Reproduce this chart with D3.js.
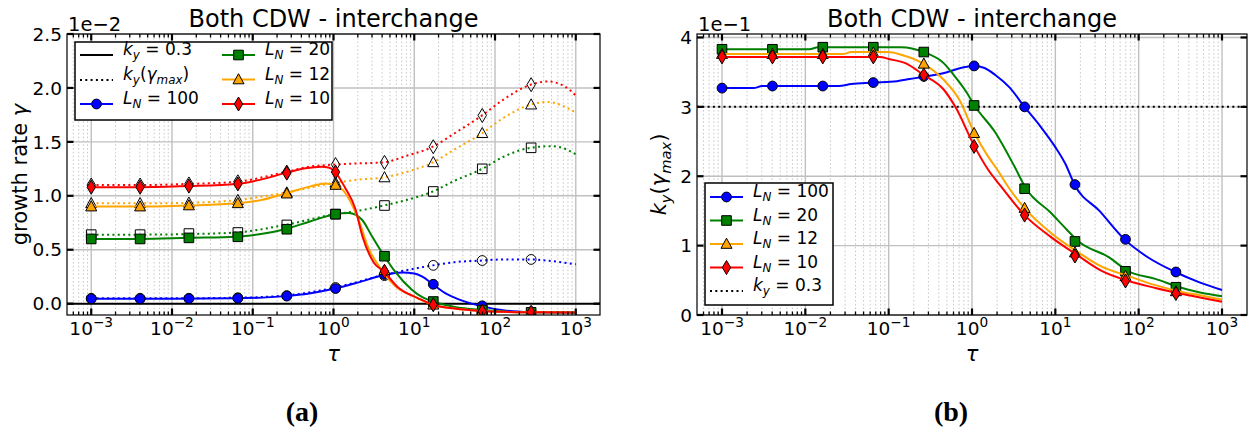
<!DOCTYPE html>
<html><head><meta charset="utf-8">
<script src="https://cdn.jsdelivr.net/npm/d3@7"></script>
<style>
body{margin:0;background:#fff}
svg{display:block}
text{font-family:"DejaVu Sans",sans-serif;fill:#000}
</style>
</head><body>
<svg id="chart" width="1253" height="434"></svg>
<script>
// ---------------- DATA ----------------
const markerTau = [0.001, 0.00403, 0.0162, 0.0654, 0.264, 1.06, 4.28, 17.2, 69.5, 280];
const seriesLN = ["100", "20", "12", "10"];
const seriesColors = ["#0000ff", "#008000", "#ffa500", "#ff0000"];
const seriesShapes = ["circle", "square", "triangle", "diamond"];
const xTickExps = [-3, -2, -1, 0, 1, 2, 3];
const yTicksA = [0, 0.5, 1.0, 1.5, 2.0, 2.5];
const yTickLabelsA = ["0.0", "0.5", "1.0", "1.5", "2.0", "2.5"];
const yTicksB = [0, 1, 2, 3, 4];
const yTickLabelsB = ["0", "1", "2", "3", "4"];

// panel (a): growth rate (x1e-2) — markers at markerTau
const gammaFixed100 = [0.045, 0.045, 0.047, 0.05, 0.07, 0.14, 0.27, 0.18, -0.02, -0.075];
const gammaFixed20  = [0.60, 0.60, 0.61, 0.62, 0.69, 0.83, 0.44, 0.02, -0.06, -0.08];
const gammaFixed12  = [0.90, 0.90, 0.91, 0.93, 1.02, 1.10, 0.31, -0.01, -0.07, -0.08];
const gammaFixed10  = [1.08, 1.08, 1.09, 1.11, 1.21, 1.22, 0.30, -0.01, -0.07, -0.08];
const gammaMax100 = [0.05, 0.05, 0.05, 0.055, 0.075, 0.15, 0.26, 0.355, 0.40, 0.41];
const gammaMax20  = [0.64, 0.64, 0.65, 0.66, 0.73, 0.83, 0.91, 1.04, 1.25, 1.445];
const gammaMax12  = [0.93, 0.93, 0.935, 0.96, 1.03, 1.12, 1.17, 1.31, 1.58, 1.845];
const gammaMax10  = [1.10, 1.10, 1.11, 1.13, 1.22, 1.29, 1.31, 1.455, 1.745, 2.03];

// panel (a) curves: [log10(tau), value]
const gammaFixedLine100 = [[-3,0.045],[-2,0.046],[-1.2,0.05],[-0.6,0.07],[-0.3,0.095],[0.02,0.14],[0.3,0.195],[0.62,0.265],[0.85,0.29],[1.0,0.28],[1.1,0.25],[1.23,0.18],[1.4,0.09],[1.55,0.04],[1.84,-0.025],[2.1,-0.06],[2.44,-0.078],[3,-0.085]];
const gammaFixedLine20 = [[-3,0.60],[-2.4,0.60],[-1.8,0.61],[-1.2,0.62],[-0.9,0.645],[-0.6,0.69],[-0.3,0.76],[0.02,0.83],[0.19,0.84],[0.35,0.78],[0.48,0.62],[0.63,0.44],[0.77,0.29],[0.97,0.13],[1.1,0.06],[1.23,0.02],[1.5,-0.03],[1.84,-0.058],[2.1,-0.072],[2.44,-0.08],[3,-0.082]];
const gammaFixedLine12 = [[-3,0.90],[-2.4,0.90],[-1.8,0.91],[-1.2,0.93],[-0.9,0.96],[-0.6,1.02],[-0.3,1.085],[-0.1,1.115],[0.02,1.10],[0.12,1.05],[0.22,0.93],[0.31,0.78],[0.43,0.52],[0.58,0.33],[0.77,0.16],[1.0,0.065],[1.23,-0.01],[1.5,-0.045],[1.84,-0.068],[2.1,-0.076],[2.44,-0.08],[3,-0.082]];
const gammaFixedLine10 = [[-3,1.08],[-2.4,1.08],[-1.8,1.09],[-1.2,1.11],[-0.9,1.15],[-0.6,1.21],[-0.35,1.255],[-0.15,1.27],[-0.05,1.26],[0.02,1.22],[0.14,1.08],[0.27,0.88],[0.36,0.62],[0.5,0.38],[0.62,0.30],[0.8,0.15],[1.05,0.05],[1.23,-0.01],[1.5,-0.045],[1.84,-0.068],[2.1,-0.076],[2.44,-0.08],[3,-0.082]];
const gammaMaxLine100 = [[-3,0.05],[-2,0.05],[-1.2,0.055],[-0.6,0.075],[0.02,0.15],[0.62,0.265],[0.9,0.31],[1.23,0.355],[1.5,0.385],[1.84,0.40],[2.1,0.41],[2.44,0.41],[2.7,0.395],[3,0.365]];
const gammaMaxLine20 = [[-3,0.64],[-2.4,0.64],[-1.8,0.645],[-1.2,0.66],[-0.6,0.73],[0.02,0.83],[0.3,0.86],[0.62,0.91],[0.9,0.96],[1.23,1.04],[1.5,1.14],[1.84,1.25],[2.1,1.36],[2.44,1.445],[2.7,1.46],[2.85,1.44],[3,1.385]];
const gammaMaxLine12 = [[-3,0.93],[-2.4,0.93],[-1.8,0.935],[-1.2,0.96],[-0.6,1.03],[0.02,1.12],[0.3,1.15],[0.62,1.17],[0.9,1.22],[1.23,1.31],[1.5,1.43],[1.84,1.58],[2.1,1.72],[2.44,1.845],[2.65,1.87],[2.85,1.83],[3,1.77]];
const gammaMaxLine10 = [[-3,1.10],[-2.4,1.10],[-1.8,1.11],[-1.2,1.13],[-0.6,1.22],[-0.3,1.27],[0.02,1.29],[0.3,1.30],[0.62,1.31],[0.9,1.37],[1.23,1.455],[1.5,1.58],[1.84,1.745],[2.1,1.89],[2.44,2.03],[2.65,2.06],[2.85,2.02],[3,1.93]];

// panel (b): k_y(gamma_max) (x1e-1) — markers at markerTau
const kyMax100 = [3.27, 3.30, 3.30, 3.35, 3.44, 3.59, 3.00, 1.88, 1.09, 0.62];
const kyMax20  = [3.83, 3.83, 3.86, 3.86, 3.79, 3.02, 1.82, 1.06, 0.63, 0.40];
const kyMax12  = [3.76, 3.76, 3.76, 3.78, 3.62, 2.62, 1.54, 0.90, 0.56, 0.34];
const kyMax10  = [3.72, 3.72, 3.72, 3.72, 3.46, 2.43, 1.44, 0.85, 0.49, 0.31];
const kyRef = 3.0;
const kyMaxLine100 = [[-3,3.27],[-2.62,3.27],[-2.52,3.30],[-1.6,3.30],[-1.45,3.33],[-1.2,3.35],[-0.9,3.37],[-0.75,3.40],[-0.6,3.43],[-0.3,3.50],[-0.1,3.57],[0.03,3.59],[0.15,3.56],[0.28,3.46],[0.45,3.28],[0.63,3.0],[0.82,2.72],[1.0,2.42],[1.12,2.18],[1.23,1.88],[1.53,1.50],[1.83,1.09],[2.1,0.84],[2.44,0.62],[2.73,0.47],[3,0.36]];
const kyMaxLine20 = [[-3,3.83],[-1.95,3.83],[-1.85,3.86],[-0.85,3.86],[-0.58,3.79],[-0.34,3.63],[-0.2,3.43],[-0.06,3.2],[0.03,3.02],[0.28,2.63],[0.51,2.14],[0.65,1.82],[0.94,1.48],[1.13,1.24],[1.28,1.06],[1.63,0.84],[1.88,0.63],[2.2,0.52],[2.49,0.40],[2.75,0.32],[3,0.27]];
const kyMaxLine12 = [[-3,3.76],[-1.55,3.76],[-1.45,3.79],[-1.0,3.79],[-0.85,3.75],[-0.58,3.62],[-0.34,3.39],[-0.15,3.1],[0.03,2.62],[0.19,2.29],[0.3,2.1],[0.45,1.82],[0.63,1.54],[0.94,1.19],[1.28,0.90],[1.55,0.70],[1.88,0.56],[2.2,0.43],[2.49,0.34],[2.75,0.28],[3,0.22]];
const kyMaxLine10 = [[-3,3.72],[-1.1,3.72],[-1.0,3.69],[-0.8,3.63],[-0.58,3.46],[-0.34,3.25],[-0.2,3.0],[0.03,2.43],[0.19,2.1],[0.35,1.85],[0.63,1.44],[0.94,1.13],[1.28,0.85],[1.55,0.64],[1.88,0.49],[2.2,0.39],[2.49,0.31],[2.75,0.25],[3,0.19]];

// ---------------- DRAWING ----------------
const svg = d3.select("#chart");
const FS_TICK = 18.5, FS_TITLE = 24, FS_LABEL = 21, FS_LEG = 17;

function rich(textSel, parts, fs) {
  let off = 0;
  parts.forEach(p => {
    const target = p.sub ? 0.24 * fs : (p.sup ? -0.42 * fs : 0);
    const ts = textSel.append("tspan").text(p.t).attr("dy", target - off);
    off = target;
    if (p.i) ts.attr("font-style", "italic");
    if (p.sub || p.sup) ts.attr("font-size", fs * (p.sup ? 0.74 : 0.7));
  });
}

function markerPath(shape) {
  if (shape === "circle") return d3.symbol(d3.symbolCircle, Math.PI * 4.9 * 4.9)();
  if (shape === "square") return "M-4.8,-4.8H4.8V4.8H-4.8Z";
  if (shape === "triangle") return "M0,-5.8L5.5,4.3L-5.5,4.3Z";
  return "M0,-7L4.2,0L0,7L-4.2,0Z";
}

function panel(cfg) {
  const {x0, x1, y0, y1, yDomain} = cfg;
  const x = d3.scaleLog().domain([Math.pow(10, -3.3), Math.pow(10, 3.3)]).range([x0, x1]);
  const y = d3.scaleLinear().domain(yDomain).range([y1, y0]);
  const g = svg.append("g");
  const clipId = "clip" + cfg.id;
  svg.append("clipPath").attr("id", clipId).append("rect")
    .attr("x", x0).attr("y", y0).attr("width", x1 - x0).attr("height", y1 - y0);

  const minors = [];
  for (let e = -4; e <= 3; e++) for (let m = 2; m <= 9; m++) {
    const v = m * Math.pow(10, e);
    if (v > x.domain()[0] && v < x.domain()[1]) minors.push(v);
  }
  const majors = xTickExps.map(e => Math.pow(10, e));

  // grid
  const grid = g.append("g");
  grid.selectAll(".mg").data(minors).join("line")
    .attr("x1", d => x(d)).attr("x2", d => x(d)).attr("y1", y0).attr("y2", y1)
    .attr("stroke", "#c4c4c4").attr("stroke-width", 0.9).attr("stroke-dasharray", "1.6,2.2");
  grid.selectAll(".Mg").data(majors).join("line")
    .attr("x1", d => x(d)).attr("x2", d => x(d)).attr("y1", y0).attr("y2", y1)
    .attr("stroke", "#c0c0c0").attr("stroke-width", 1.4);
  grid.selectAll(".yg").data(cfg.yTicks).join("line")
    .attr("x1", x0).attr("x2", x1).attr("y1", d => y(d)).attr("y2", d => y(d))
    .attr("stroke", "#c0c0c0").attr("stroke-width", 1.4);

  const plot = g.append("g").attr("clip-path", `url(#${clipId})`);
  cfg.drawData(plot, x, y);

  // frame
  g.append("rect").attr("x", x0).attr("y", y0).attr("width", x1 - x0).attr("height", y1 - y0)
    .attr("fill", "none").attr("stroke", "#000").attr("stroke-width", 1.2);

  // ticks (inward, all sides)
  const tk = g.append("g").attr("stroke", "#000");
  [y1, y0].forEach((yy, i) => {
    const dir = i === 0 ? -1 : 1;
    tk.append("g").selectAll("line").data(minors).join("line")
      .attr("x1", d => x(d)).attr("x2", d => x(d)).attr("y1", yy).attr("y2", yy + dir * 3.5)
      .attr("stroke-width", 1.3);
    tk.append("g").selectAll("line").data(majors).join("line")
      .attr("x1", d => x(d)).attr("x2", d => x(d)).attr("y1", yy).attr("y2", yy + dir * 6.5)
      .attr("stroke-width", 2.2);
  });
  [x0, x1].forEach((xx, i) => {
    const dir = i === 0 ? 1 : -1;
    tk.append("g").selectAll("line").data(cfg.yTicks).join("line")
      .attr("x1", xx).attr("x2", xx + dir * 6.5).attr("y1", d => y(d)).attr("y2", d => y(d))
      .attr("stroke-width", 2.2);
  });

  // tick labels
  xTickExps.forEach(e => {
    const t = g.append("text").attr("x", x(Math.pow(10, e))).attr("y", y1 + 20)
      .attr("text-anchor", "middle").attr("font-size", FS_TICK);
    rich(t, [{t: "10"}, {t: e < 0 ? "\u2212" + (-e) : String(e), sup: true}], FS_TICK);
  });
  cfg.yTicks.forEach((v, i) => {
    g.append("text").attr("x", x0 - 5).attr("y", y(v)).attr("dy", "0.36em")
      .attr("text-anchor", "end").attr("font-size", FS_TICK).text(cfg.yTickLabels[i]);
  });
  g.append("text").attr("x", x0 + 1).attr("y", y0 - 3).attr("font-size", 19.5).text(cfg.offset);
  g.append("text").attr("x", (x0 + x1) / 2).attr("y", 27).attr("text-anchor", "middle")
    .attr("font-size", FS_TITLE).text("Both CDW - interchange");
  g.append("text").attr("x", (x0 + x1) / 2).attr("y", 361).attr("text-anchor", "middle")
    .attr("font-size", FS_LABEL).attr("font-style", "italic").text("\u03c4");
  const yl = g.append("text").attr("transform", `translate(${cfg.ylabelX},${(y0 + y1) / 2}) rotate(-90)`)
    .attr("text-anchor", "middle").attr("font-size", FS_LABEL);
  rich(yl, cfg.ylabel, FS_LABEL);
  g.append("text").attr("x", cfg.capX).attr("y", 421).attr("text-anchor", "middle")
    .style("font-family", "'Liberation Serif', serif").attr("font-weight", "bold")
    .attr("font-size", 28).text(cfg.caption);
  return {x, y, g};
}

function drawSeries(plot, x, y, pts, markers, color, shape, dotted, hollow) {
  const line = d3.line().x(d => x(Math.pow(10, d[0]))).y(d => y(d[1])).curve(d3.curveMonotoneX);
  plot.append("path").attr("d", line(pts)).attr("fill", "none").attr("stroke", color)
    .attr("stroke-width", 2).attr("stroke-dasharray", dotted ? "2,3.3" : null);
  plot.append("g").selectAll("path").data(markers).join("path")
    .attr("d", markerPath(shape))
    .attr("transform", (d, i) => `translate(${x(markerTau[i])},${y(d)})`)
    .attr("fill", hollow ? "none" : color).attr("stroke", "#000").attr("stroke-width", 1);
}

const fixedLines = [gammaFixedLine100, gammaFixedLine20, gammaFixedLine12, gammaFixedLine10];
const fixedMarks = [gammaFixed100, gammaFixed20, gammaFixed12, gammaFixed10];
const maxLines = [gammaMaxLine100, gammaMaxLine20, gammaMaxLine12, gammaMaxLine10];
const maxMarks = [gammaMax100, gammaMax20, gammaMax12, gammaMax10];
const kyLines = [kyMaxLine100, kyMaxLine20, kyMaxLine12, kyMaxLine10];
const kyMarks = [kyMax100, kyMax20, kyMax12, kyMax10];

const kyParts = [{t: "k", i: true}, {t: "y", sub: true, i: true}];

panel({
  id: "a", x0: 67, x1: 600, y0: 34, y1: 315, yDomain: [-0.105, 2.5],
  yTicks: yTicksA, yTickLabels: yTickLabelsA, offset: "1e\u22122",
  ylabelX: 27, ylabel: [{t: "growth rate "}, {t: "\u03b3", i: true}],
  capX: 302, caption: "(a)",
  drawData: (plot, x, y) => {
    plot.append("line").attr("x1", x.range()[0]).attr("x2", x.range()[1])
      .attr("y1", y(0)).attr("y2", y(0)).attr("stroke", "#000").attr("stroke-width", 2);
    for (let s = 0; s < 4; s++) {
      drawSeries(plot, x, y, maxLines[s], maxMarks[s], seriesColors[s], seriesShapes[s], true, true);
    }
    for (let s = 0; s < 4; s++) {
      drawSeries(plot, x, y, fixedLines[s], fixedMarks[s], seriesColors[s], seriesShapes[s], false, false);
    }
  }
});

panel({
  id: "b", x0: 697, x1: 1247, y0: 34, y1: 315, yDomain: [0, 4.05],
  yTicks: yTicksB, yTickLabels: yTickLabelsB, offset: "1e\u22121",
  ylabelX: 666, ylabel: [...kyParts, {t: "("}, {t: "\u03b3", i: true}, {t: "max", sub: true, i: true}, {t: ")"}],
  capX: 951, caption: "(b)",
  drawData: (plot, x, y) => {
    plot.append("line").attr("x1", x.range()[0]).attr("x2", x.range()[1])
      .attr("y1", y(kyRef)).attr("y2", y(kyRef)).attr("stroke", "#000").attr("stroke-width", 2)
      .attr("stroke-dasharray", "2,3.3");
    for (let s = 0; s < 4; s++) {
      drawSeries(plot, x, y, kyLines[s], kyMarks[s], seriesColors[s], seriesShapes[s], false, false);
    }
  }
});

// ---------------- LEGENDS ----------------
function legendEntry(g, lx, ly, item) {
  g.append("line").attr("x1", lx).attr("x2", lx + 33).attr("y1", ly).attr("y2", ly)
    .attr("stroke", item.color).attr("stroke-width", 2)
    .attr("stroke-dasharray", item.dotted ? "2,3.3" : null);
  if (item.shape) {
    g.append("path").attr("d", markerPath(item.shape)).attr("transform", `translate(${lx + 16.5},${ly})`)
      .attr("fill", item.color).attr("stroke", "#000").attr("stroke-width", 1);
  }
  const t = g.append("text").attr("x", lx + 43).attr("y", ly).attr("dy", "0.36em").attr("font-size", FS_LEG);
  rich(t, item.label, FS_LEG);
}
const lnLabel = n => [{t: "L", i: true}, {t: "N", sub: true, i: true}, {t: " = " + n}];

const la = svg.append("g");
la.append("rect").attr("x", 75).attr("y", 42).attr("width", 257).attr("height", 78)
  .attr("fill", "#fff").attr("stroke", "#000").attr("stroke-width", 1.5);
legendEntry(la, 80, 55, {color: "#000", label: [...kyParts, {t: " = 0.3"}]});
legendEntry(la, 80, 80, {color: "#000", dotted: true, label: [...kyParts, {t: "("}, {t: "\u03b3", i: true}, {t: "max", sub: true, i: true}, {t: ")"}]});
legendEntry(la, 80, 104, {color: seriesColors[0], shape: seriesShapes[0], label: lnLabel(seriesLN[0])});
for (let s = 1; s < 4; s++) {
  legendEntry(la, 222, 55 + (s - 1) * 24.5, {color: seriesColors[s], shape: seriesShapes[s], label: lnLabel(seriesLN[s])});
}

const lb = svg.append("g");
lb.append("rect").attr("x", 705).attr("y", 183).attr("width", 128).attr("height", 122)
  .attr("fill", "#fff").attr("stroke", "#000").attr("stroke-width", 1.5);
for (let s = 0; s < 4; s++) {
  legendEntry(lb, 710, 197 + s * 23.5, {color: seriesColors[s], shape: seriesShapes[s], label: lnLabel(seriesLN[s])});
}
legendEntry(lb, 710, 197 + 4 * 23.5, {color: "#000", dotted: true, label: [...kyParts, {t: " = 0.3"}]});
</script>
</body></html>
